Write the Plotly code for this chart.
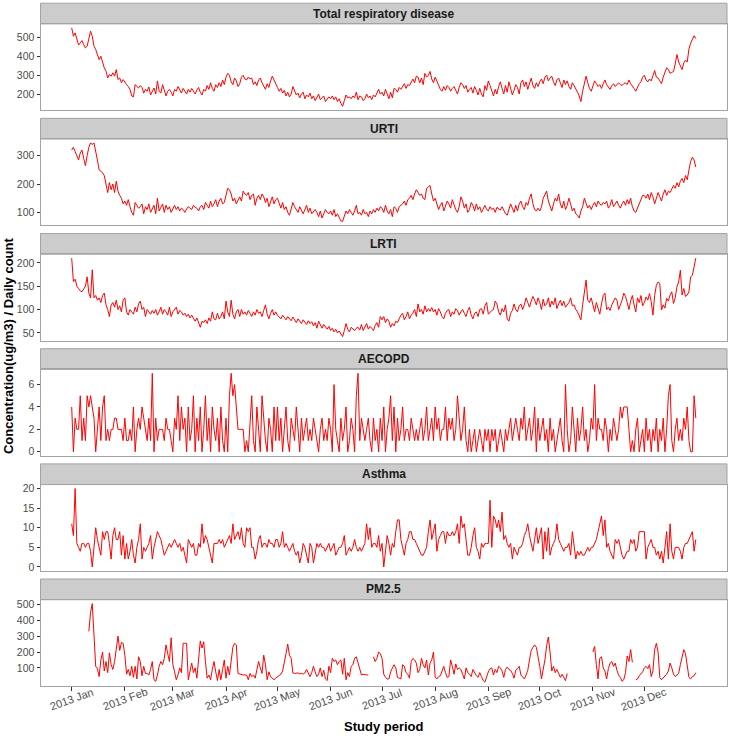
import pandas as pd
import plotly.graph_objects as go

N = None
# ---------------- data (daily, 2013-01-01 .. 2013-12-31) ----------------
total = [
    552,507,525,490,460,472,484,463,445,454,490,534,507,454,437,410,383,401,366,339,322,286,304,295,313,295,330,277,286,260,277,
    260,250,240,225,190,185,250,238,232,245,235,205,225,215,238,195,218,232,200,270,215,205,250,225,190,215,225,210,
    190,225,215,240,220,205,230,215,200,225,210,230,215,200,222,235,210,195,225,215,245,225,260,230,215,250,235,260,240,275,250,
    290,310,300,265,250,285,270,240,255,290,300,280,275,290,280,285,250,265,245,275,285,260,240,225,255,235,270,295,275,250,
    235,215,230,205,220,190,210,185,200,240,215,195,205,180,200,210,175,195,185,205,175,190,165,185,200,170,180,190,160,175,185,
    175,190,170,185,160,175,150,135,165,195,180,185,175,190,180,210,170,190,185,165,175,200,180,190,170,195,185,205,225,200,
    210,190,225,200,175,210,180,230,225,210,235,225,240,255,230,250,245,265,280,260,295,290,260,285,250,310,290,300,320,280,260,
    290,270,250,225,215,240,220,245,235,215,230,240,220,200,235,260,250,230,245,210,225,235,205,240,220,195,230,200,185,245,220,
    270,245,210,190,225,200,240,265,230,200,245,210,265,235,195,220,250,235,200,260,275,240,265,225,255,285,245,230,260,240,
    265,280,255,290,300,270,285,295,265,245,275,285,260,235,275,250,270,240,225,260,245,230,210,190,160,215,250,295,260,230,215,
    245,270,255,240,250,230,255,275,250,235,225,245,255,240,250,260,250,245,255,260,250,275,255,245,230,215,240,255,265,290,
    300,275,265,280,270,300,325,290,285,270,255,290,320,340,330,310,315,320,360,410,370,345,330,365,380,370,440,470,490,510,495,
]
urti = [
    320,330,315,300,285,310,320,290,265,300,330,345,340,345,320,285,250,245,240,230,200,170,205,180,200,170,210,175,160,150,130,
    140,125,145,120,100,90,135,125,115,120,130,95,120,110,130,100,110,125,95,150,105,115,130,100,125,110,120,100,
    115,125,110,120,105,115,110,100,112,120,115,110,125,118,115,105,120,125,110,135,125,115,140,120,130,145,120,140,150,130,135,
    160,185,180,165,140,150,130,145,155,140,175,165,160,170,145,160,165,125,150,160,145,165,155,135,150,120,140,155,130,145,
    150,130,115,135,110,120,100,90,115,135,120,110,100,120,105,95,110,125,100,115,95,105,110,100,85,105,80,95,110,100,95,
    105,90,110,85,95,80,70,68,90,105,95,110,100,90,105,125,95,100,90,110,95,100,85,105,95,110,100,115,105,120,
    115,100,125,105,95,110,85,120,115,100,120,125,130,140,125,145,150,160,145,165,180,170,160,165,150,145,185,190,195,165,140,
    150,130,110,125,135,105,120,140,130,115,145,125,110,100,120,155,140,115,130,100,110,135,125,105,130,110,120,100,115,125,110,
    105,120,110,115,100,118,112,108,120,105,95,90,110,130,115,100,125,105,130,140,120,110,135,125,150,165,130,110,105,115,
    105,120,150,165,175,140,125,105,130,150,140,165,130,115,140,110,125,150,130,105,115,95,90,80,105,120,150,135,115,125,110,
    125,135,120,140,130,125,135,130,140,115,125,145,120,130,140,125,115,130,140,125,145,130,150,120,105,100,115,130,150,160,
    160,150,165,145,170,155,130,150,170,155,140,165,180,160,175,170,180,195,185,205,190,210,220,205,230,215,250,280,295,285,260,
]
lrti = [
    210,160,165,150,145,140,138,145,150,170,135,125,185,125,130,120,125,115,130,135,110,100,85,110,115,105,120,100,108,95,120,
    125,95,88,100,95,90,105,95,112,118,100,105,85,100,95,90,98,92,100,88,95,105,90,100,95,88,105,85,
    95,100,105,90,98,95,88,92,85,90,82,88,80,75,82,70,62,75,72,78,70,82,75,95,80,78,92,80,85,95,80,
    118,95,85,120,90,80,95,100,85,100,90,95,88,98,92,85,95,88,100,92,95,85,98,110,90,80,92,100,88,95,
    88,85,80,88,82,78,85,80,76,84,78,72,80,75,70,78,72,68,76,70,74,65,72,60,75,66,60,68,62,58,64,
    55,60,52,58,50,54,48,42,55,70,58,52,62,58,55,60,62,56,68,55,62,70,58,64,60,55,66,72,62,85,
    78,85,72,80,75,62,70,65,75,72,80,88,92,78,85,95,80,88,92,100,85,112,95,100,90,108,95,102,96,104,95,
    100,88,102,95,85,80,92,98,100,85,95,90,102,98,88,95,100,92,85,98,105,88,80,92,95,85,100,102,90,108,115,
    90,95,98,100,118,112,95,88,102,95,110,80,75,92,98,112,100,95,108,112,100,110,125,115,105,118,128,120,110,125,
    115,100,122,108,112,125,105,118,110,125,102,112,120,108,118,105,110,115,125,108,110,100,95,88,78,110,140,163,120,115,125,
    110,95,115,100,90,112,130,135,100,105,98,110,118,125,120,100,110,120,135,128,115,100,118,130,110,95,125,115,130,108,
    115,127,120,134,117,88,130,152,159,156,99,110,103,124,118,131,138,113,125,149,159,184,131,145,128,131,138,170,173,190,210,
]
aecopd = [
    4,0,3,2,2,5,1,3,1,5,4,5,4,3,0,2,4,1,4,5,1,2,1,2,2,3,3,2,2,2,1,
    3,1,1,2,1,4,0,2,3,2,4,3,2,1,3,1,7,0,3,1,2,2,2,1,3,2,2,1,
    0,3,2,5,1,4,2,3,0,4,1,2,5,0,3,1,4,0,2,5,1,3,0,4,2,1,3,0,4,1,0,
    3,0,5,7,5,6,4,2,2,2,2,0,1,0,3,5,1,0,4,2,0,5,3,1,0,3,2,0,4,1,
    4,1,3,0,2,4,1,0,3,2,1,4,2,0,3,1,2,3,1,2,1,3,2,1,0,2,3,1,2,1,3,
    2,0,6,2,1,0,3,1,2,4,0,1,3,2,0,5,7,1,3,2,1,2,3,1,0,3,1,2,0,3,
    1,4,0,2,3,5,1,4,0,3,1,2,4,1,2,2,1,3,2,1,2,1,2,3,1,2,4,1,2,3,1,
    4,2,3,1,2,2,4,1,3,2,3,1,2,5,3,1,2,4,1,0,2,0,1,2,0,1,2,1,0,2,1,
    2,0,2,1,2,0,1,2,1,0,2,1,2,3,1,2,3,2,1,3,2,4,1,2,3,1,2,4,0,3,
    1,2,3,1,2,0,3,1,2,0,1,2,3,1,0,6,2,0,1,4,2,0,3,1,2,4,1,2,0,1,3,
    2,6,1,3,2,2,1,3,2,0,2,1,3,2,1,2,4,3,4,4,4,2,0,1,0,2,3,0,1,2,
    0,3,1,2,0,2,1,3,0,2,1,3,0,2,5,6,1,0,2,3,1,2,1,3,2,4,1,0,0,5,3,
]
asthma = [
    11,8,20,6,5,4,6,6,5,6,6,4,0,5,10,7,5,3,9,7,9,9,6,2,8,10,7,7,9,3,8,
    2,6,2,4,7,3,1,5,7,11,2,5,4,5,6,8,2,5,7,9,8,7,5,3,4,5,6,5,
    6,7,6,5,6,4,5,3,1,7,6,5,6,3,3,6,5,11,6,8,7,5,3,1,6,6,6,7,6,7,5,
    6,7,8,6,11,7,8,9,7,10,6,5,10,9,10,5,5,2,4,7,8,5,6,6,5,7,6,6,5,7,
    7,5,6,9,5,6,5,4,5,6,4,3,4,1,3,6,5,3,1,6,5,1,4,6,5,6,5,5,4,5,6,
    4,5,6,3,4,5,5,6,8,3,4,5,4,5,7,5,4,5,4,5,6,11,7,10,5,6,6,5,8,4,
    6,0,5,8,6,3,6,5,9,12,12,7,5,3,6,7,9,9,7,7,6,5,4,3,3,4,5,9,12,7,9,
    11,4,7,8,9,9,6,9,8,8,9,8,9,11,6,13,10,11,7,3,3,5,8,10,5,4,2,6,5,6,6,
    6,17,5,13,12,10,12,9,14,7,8,6,5,6,2,5,4,3,5,5,6,8,9,11,8,6,4,7,10,6,
    8,10,2,9,4,10,3,5,6,7,11,7,6,5,4,5,5,6,3,9,5,2,4,3,4,3,3,4,5,4,5,
    5,6,7,9,11,13,8,12,5,6,4,3,2,7,6,7,5,3,2,3,4,4,7,6,7,4,5,9,9,9,
    9,2,5,6,7,5,5,3,4,2,4,1,5,9,2,11,4,2,5,5,5,4,2,5,6,6,7,8,9,4,7,
]
pm25 = [
    N,N,N,N,N,N,N,N,N,N,330,450,505,300,110,95,45,150,200,80,140,70,195,120,90,140,225,300,210,260,255,
    180,60,90,50,110,40,110,30,170,140,50,110,65,65,55,90,140,25,15,55,110,140,120,160,245,190,140,290,
    120,75,25,55,100,70,255,255,255,25,90,130,70,100,35,140,270,225,265,140,35,55,25,90,140,75,20,90,25,90,150,
    35,110,55,130,230,255,245,65,60,55,55,55,55,25,65,45,55,35,80,140,100,65,180,120,25,75,45,35,25,35,
    45,55,60,80,125,190,250,180,160,68,65,65,68,62,66,60,68,90,70,45,70,110,75,45,60,100,45,85,30,20,110,
    70,160,140,150,120,140,150,60,160,25,70,45,110,120,160,170,130,90,55,60,55,55,55,N,N,170,140,160,200,190,
    160,60,40,30,30,75,100,120,100,40,35,30,120,110,70,60,35,140,160,150,130,70,90,160,120,100,150,55,130,150,200,
    40,30,45,50,80,110,70,40,45,150,110,60,125,90,100,90,60,30,100,70,60,45,90,65,50,40,70,45,20,10,45,
    75,95,100,55,90,70,110,100,80,40,90,105,90,85,65,35,85,95,110,55,40,30,55,85,150,210,230,245,230,175,
    110,30,80,150,240,295,200,80,110,70,90,65,40,60,40,20,65,N,N,N,N,N,N,N,N,N,N,N,N,N,N,
    200,235,120,30,160,170,100,80,30,95,130,140,110,130,85,55,40,15,25,70,175,140,215,135,N,25,30,50,65,75,
    100,110,95,120,45,80,215,255,200,40,25,35,45,60,80,130,100,60,45,55,65,120,160,215,190,100,40,30,45,50,70,
]

panel_names = ["Total respiratory disease", "URTI", "LRTI", "AECOPD", "Asthma", "PM2.5"]
panel_values = [total, urti, lrti, aecopd, asthma, pm25]
panel_yticks = [[200, 300, 400, 500], [100, 200, 300], [50, 100, 150, 200],
                [0, 2, 4, 6], [0, 5, 10, 15, 20], [100, 200, 300, 400, 500]]
month_starts = pd.date_range("2013-01-01", "2013-12-01", freq="MS")
month_labels = ["2013 " + d.strftime("%b") for d in month_starts]

# ---------------- figure ----------------
W, H = 733, 736
FONT = "Liberation Sans, Arial, Helvetica, sans-serif"
L, R = 40.5, 727.0
TOP0, STEP, PH, SH = 22.0, 115.8, 86.8, 20.8

def py(px):
    return 1 - px / H

fig = go.Figure()
layout = dict(width=W, height=H, margin=dict(l=0, r=0, t=0, b=0),
              paper_bgcolor="white", plot_bgcolor="white", showlegend=False,
              font=dict(family=FONT))
shapes, annotations = [], []

for i, (name, vals, yt) in enumerate(zip(panel_names, panel_values, panel_yticks)):
    n = i + 1
    sfx = "" if n == 1 else str(n)
    dates = pd.date_range("2013-01-01", periods=len(vals), freq="D")
    span = dates[-1] - dates[0]
    x0, x1 = dates[0] - 0.05 * span, dates[-1] + 0.05 * span
    clean = [v for v in vals if v is not None]
    lo, hi = min(clean), max(clean)
    pad = 0.05 * (hi - lo)
    top = TOP0 + STEP * i
    bot = top + PH
    fig.add_trace(go.Scatter(x=dates, y=vals, mode="lines", connectgaps=False,
                             line=dict(color="#FF0000", width=1),
                             xaxis="x" + sfx, yaxis="y" + sfx, hoverinfo="skip"))
    last = (n == len(panel_names))
    layout["xaxis" + sfx] = dict(
        domain=[L / W, R / W], anchor="y" + sfx, type="date",
        range=[str(x0), str(x1)], showgrid=False, zeroline=False,
        showline=True, mirror=True, linecolor="#A3A3A3", linewidth=1,
        showticklabels=False, ticks="outside" if last else "",
        tickvals=list(month_starts) if last else None,
        ticklen=4, tickcolor="#333333", tickwidth=1)
    layout["yaxis" + sfx] = dict(
        domain=[py(bot), py(top)], anchor="x" + sfx, range=[lo - pad, hi + pad],
        tickvals=yt, showgrid=False, zeroline=False,
        showline=True, mirror=True, linecolor="#A3A3A3", linewidth=1,
        ticks="outside", ticklen=3, tickcolor="#333333", tickwidth=1,
        tickfont=dict(size=10.5, color="#4D4D4D", family=FONT))
    shapes.append(dict(type="rect", xref="paper", yref="paper",
                       x0=L / W, x1=R / W, y0=py(top), y1=py(top - SH),
                       fillcolor="#CCCCCC", line=dict(color="#A3A3A3", width=1),
                       layer="below"))
    annotations.append(dict(text="<b>" + name + "</b>", xref="paper", yref="paper",
                            x=(L + R) / 2 / W, y=py(top - SH / 2), showarrow=False,
                            xanchor="center", yanchor="middle",
                            font=dict(size=12, color="#1A1A1A", family=FONT)))
    if last:
        for d, lab in zip(month_starts, month_labels):
            annotations.append(dict(text=lab, xref="x" + sfx, yref="paper",
                                    x=d, y=py(bot + 13), showarrow=False,
                                    textangle=-20, xanchor="center", yanchor="middle",
                                    font=dict(size=11, color="#4D4D4D", family=FONT)))

annotations.append(dict(text="<b>Study period</b>", xref="paper", yref="paper",
                        x=(L + R) / 2 / W, y=py(728), showarrow=False,
                        xanchor="center", yanchor="middle",
                        font=dict(size=13, color="#000000", family=FONT)))
annotations.append(dict(text="<b>Concentration(ug/m3) / Daily count</b>", xref="paper",
                        yref="paper", x=8 / W, y=py(346), showarrow=False,
                        textangle=-90, xanchor="center", yanchor="middle",
                        font=dict(size=13, color="#000000", family=FONT)))

layout["shapes"] = shapes
layout["annotations"] = annotations
fig.update_layout(**layout)
fig.write_html("out.html", config={"displayModeBar": False},
               post_script="document.body.style.margin='0';document.body.style.overflow='hidden';")
